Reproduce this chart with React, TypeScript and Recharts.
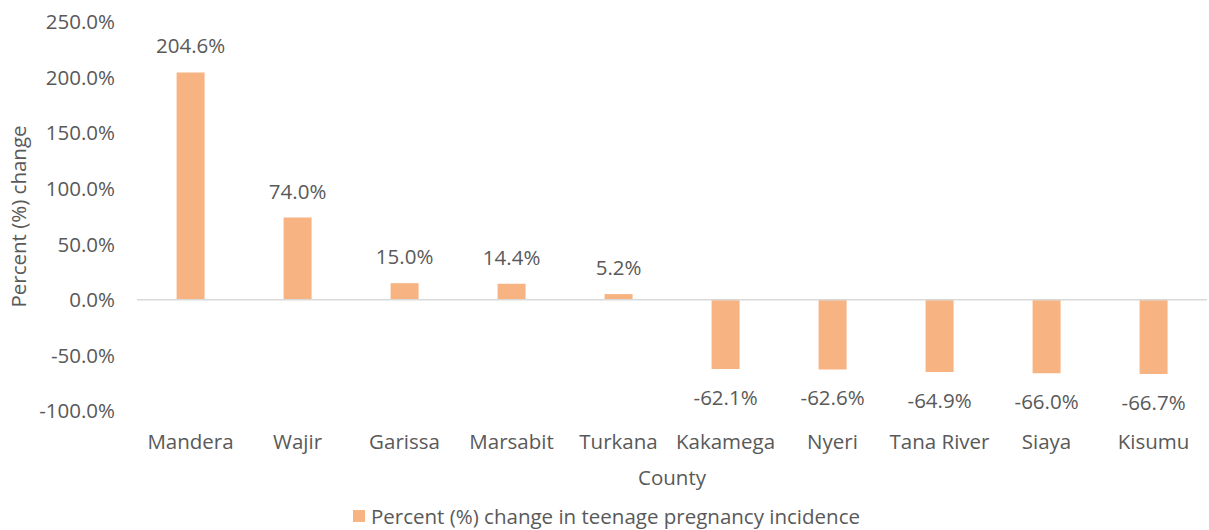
import React from "react";
import {
  BarChart,
  Bar,
  XAxis,
  YAxis,
  ReferenceLine,
  LabelList,
  Legend,
} from "recharts";

const counties = [
  "Mandera",
  "Wajir",
  "Garissa",
  "Marsabit",
  "Turkana",
  "Kakamega",
  "Nyeri",
  "Tana River",
  "Siaya",
  "Kisumu",
];
const changes = [204.6, 74.0, 15.0, 14.4, 5.2, -62.1, -62.6, -64.9, -66.0, -66.7];
const yTicks = [-100, -50, 0, 50, 100, 150, 200, 250];
const seriesName = "Percent (%) change in teenage pregnancy incidence";

const BAR = "#F8B382";
const TEXT = "#595959";
const FONT = "'Open Sans', sans-serif";
const FS = 20.5;

const data = counties.map((county, i) => ({ county, change: changes[i] }));

const ValueLabel = (props: any) => {
  const { x, y, width, height, value } = props;
  const neg = value < 0;
  const cx = x + width / 2;
  // height is negative for bars below zero in recharts
  const bottom = y + height;
  const ty = neg ? Math.max(y, bottom) + 28 : Math.min(y, bottom) - 27;
  return (
    <text
      x={cx}
      y={ty}
      textAnchor="middle"
      dominantBaseline="central"
      fill={TEXT}
      fontSize={FS}
      fontFamily={FONT}
    >
      {`${value.toFixed(1)}%`}
    </text>
  );
};

const LegendBox = () => (
  <div
    style={{
      height: 24,
      display: "flex",
      justifyContent: "center",
      alignItems: "center",
      fontFamily: FONT,
      fontSize: FS,
      color: TEXT,
      paddingLeft: 6,
      position: "relative",
      top: -2,
    }}
  >
    <span
      style={{ width: 12, height: 12, background: BAR, display: "inline-block", marginRight: 6 }}
    />
    <span>{seriesName}</span>
  </div>
);

export default function App() {
  return (
    <div style={{ position: "absolute", left: 0, top: 0, width: 1209, height: 530, background: "#fff" }}>
      <BarChart
        width={1209}
        height={530}
        data={data}
        margin={{ top: 22, right: 2, left: 0, bottom: 0 }}
        barCategoryGap="37%"
      >
        <XAxis
          dataKey="county"
          axisLine={false}
          tickLine={false}
          height={95}
          tick={{ fill: TEXT, fontSize: FS, fontFamily: FONT }}
          tickMargin={17}
          interval={0}
          label={{
            value: "County",
            position: "insideBottom",
            offset: 21,
            fill: TEXT,
            fontSize: FS,
            fontFamily: FONT,
          }}
        />
        <YAxis
          type="number"
          domain={[-100, 250]}
          ticks={yTicks}
          axisLine={false}
          tickLine={false}
          width={137}
          tickMargin={16}
          tick={{ fill: TEXT, fontSize: FS, fontFamily: FONT }}
          tickFormatter={(v: number) => `${v.toFixed(1)}%`}
          label={{
            value: "Percent (%) change",
            angle: -90,
            position: "insideLeft",
            offset: 19,
            style: { textAnchor: "middle" },
            fill: TEXT,
            fontSize: FS,
            fontFamily: FONT,
          }}
        />
        <ReferenceLine y={0} stroke="#D9D9D9" strokeWidth={1.5} ifOverflow="extendDomain" />
        <Legend verticalAlign="bottom" height={24} content={<LegendBox />} />
        <Bar dataKey="change" name={seriesName} fill={BAR} isAnimationActive={false}>
          <LabelList dataKey="change" content={<ValueLabel />} />
        </Bar>
      </BarChart>
    </div>
  );
}
